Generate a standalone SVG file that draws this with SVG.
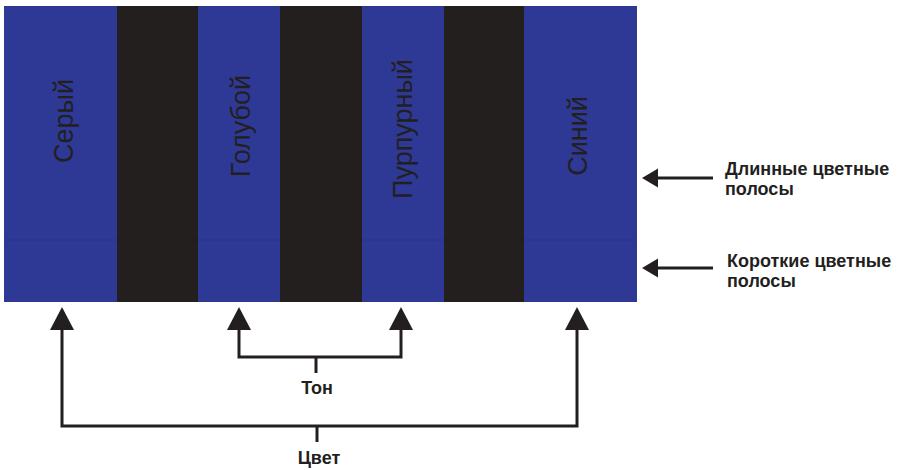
<svg xmlns="http://www.w3.org/2000/svg" width="908" height="470" viewBox="0 0 908 470">
<style>
.bar{font-family:"Liberation Sans",Arial,sans-serif;font-size:27px;fill:#221f22;text-anchor:middle}
.lbl{font-family:"Liberation Sans",Arial,sans-serif;font-size:18px;font-weight:bold;fill:#231f20}
.ln{fill:none;stroke:#231f20;stroke-width:3}
.hd{fill:#231f20}
</style>
<rect width="908" height="470" fill="#ffffff"/>
<g id="panel">
<rect x="4" y="6" width="633" height="296" fill="#2e3996"/>
<rect x="117" y="6" width="81" height="296" fill="#221f1e"/>
<rect x="280" y="6" width="82" height="296" fill="#221f1e"/>
<rect x="444" y="6" width="80" height="296" fill="#221f1e"/>
<line x1="4" y1="240" x2="637" y2="240" stroke="#000" stroke-opacity="0.05" stroke-width="2"/>
</g>
<g id="bar-grey"><text class="bar" transform="translate(73,121) rotate(-90)">Серый</text></g>
<g id="bar-cyan"><text class="bar" transform="translate(250,126) rotate(-90)">Голубой</text></g>
<g id="bar-magenta"><text class="bar" transform="translate(412,129) rotate(-90)">Пурпурный</text></g>
<g id="bar-blue"><text class="bar" transform="translate(587,136) rotate(-90)">Синий</text></g>
<g id="connectors">
<path class="ln" d="M62,328 V426 H577 V328"/>
<path class="ln" d="M317,426 V442"/>
<path class="ln" d="M239,328 V357 H401 V328"/>
<path class="ln" d="M316,357 V373"/>
<path class="hd" d="M62,307 L74,330 L50,330 Z"/>
<path class="hd" d="M239,307 L251,330 L227,330 Z"/>
<path class="hd" d="M401,307 L413,330 L389,330 Z"/>
<path class="hd" d="M577,307 L589,330 L565,330 Z"/>
<path class="ln" d="M655,178 H713"/>
<path class="hd" d="M642,178 L658,168.5 L658,187.5 Z"/>
<path class="ln" d="M655,268 H713"/>
<path class="hd" d="M642,268 L658,258.5 L658,277.5 Z"/>
</g>
<g id="label-long"><text class="lbl" x="725" y="175">Длинные цветные</text><text class="lbl" x="725" y="195">полосы</text></g>
<g id="label-short"><text class="lbl" x="727" y="267">Короткие цветные</text><text class="lbl" x="727" y="287">полосы</text></g>
<g id="label-tone"><text class="lbl" x="317" y="394" text-anchor="middle">Тон</text></g>
<g id="label-color"><text class="lbl" x="319" y="464" text-anchor="middle">Цвет</text></g>
</svg>
